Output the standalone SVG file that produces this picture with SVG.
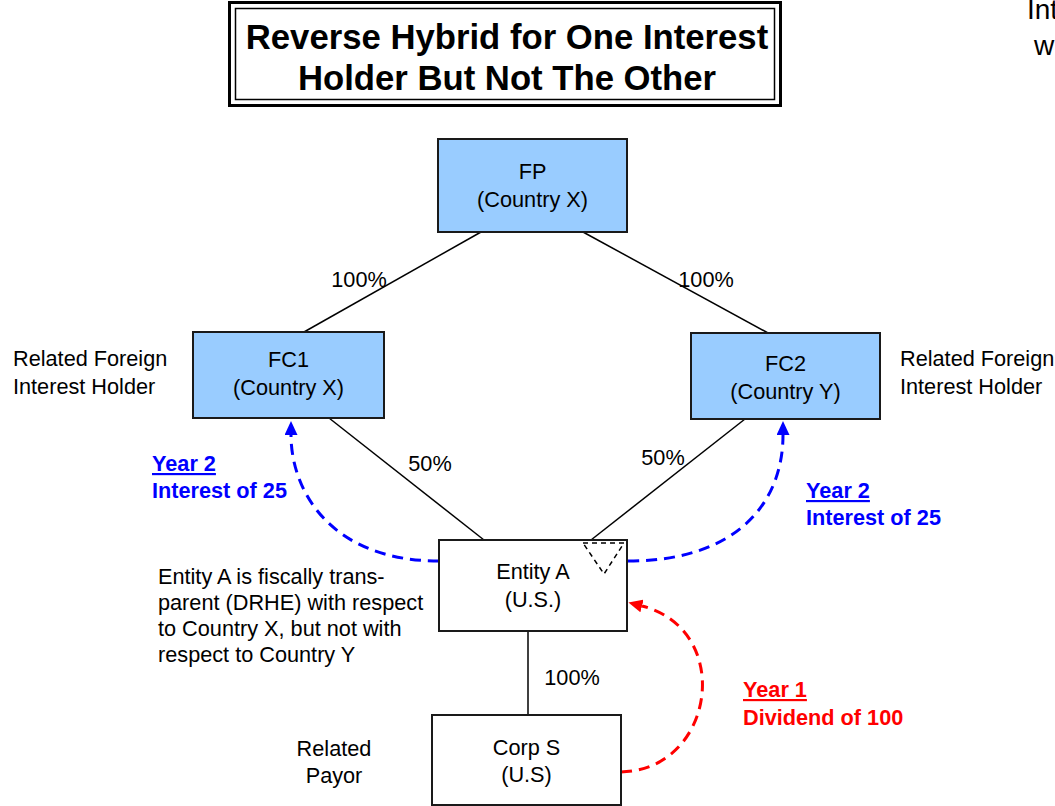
<svg xmlns="http://www.w3.org/2000/svg" width="1055" height="806" viewBox="0 0 1055 806">
<style>
text{font-family:"Liberation Sans",Arial,sans-serif;font-size:21.7px;fill:#000}
.c{text-anchor:middle}
.t{font-size:34.7px;font-weight:bold}
.big{font-size:28px}
.b{font-weight:bold;fill:#0000FF}
.r{font-weight:bold;fill:#FF0000}
.u{text-decoration:underline}
.node{stroke:#1a1a1a;stroke-width:2}
.blue{fill:#99CCFF}
.white{fill:#FFFFFF}
.ln{stroke:#000;stroke-width:1.5;fill:none}
.bd{stroke:#0000FF;stroke-width:3;fill:none;stroke-dasharray:11,7}
.rd{stroke:#FF0000;stroke-width:3;fill:none;stroke-dasharray:11,7}
</style>
<defs>
<marker id="ab" markerUnits="userSpaceOnUse" markerWidth="14" markerHeight="13" viewBox="0 0 14 13" refX="0" refY="6.5" orient="auto"><path d="M0,0 L14,6.5 L0,13 z" fill="#0000FF"/></marker>
<marker id="ar" markerUnits="userSpaceOnUse" markerWidth="14" markerHeight="13" viewBox="0 0 14 13" refX="0" refY="6.5" orient="auto"><path d="M0,0 L14,6.5 L0,13 z" fill="#FF0000"/></marker>
</defs>
<rect width="1055" height="806" fill="#FFFFFF"/>
<g id="title">
<rect x="229.5" y="2.5" width="551" height="103" fill="#FFFFFF" stroke="#000" stroke-width="3"/>
<rect x="235.5" y="8.5" width="539" height="91" fill="none" stroke="#000" stroke-width="1.5"/>
<text class="t c" x="507" y="49">Reverse Hybrid for One Interest</text>
<text class="t c" x="507" y="90">Holder But Not The Other</text>
</g>
<g id="clipped-text">
<text class="big" x="1027" y="19">Int</text>
<text class="big" x="1034" y="55">w</text>
</g>
<g id="connectors">
<line class="ln" x1="481" y1="232" x2="304" y2="332"/>
<line class="ln" x1="583" y1="232" x2="768" y2="333"/>
<line class="ln" x1="329" y1="418" x2="484" y2="540"/>
<line class="ln" x1="745" y1="419" x2="591" y2="540"/>
<line class="ln" x1="528" y1="631" x2="528" y2="715"/>
<path class="bd" d="M439,561 C330,561 291,490 291,435" marker-end="url(#ab)"/>
<path class="bd" d="M628,561 C740,561 783,500 783,435" marker-end="url(#ab)"/>
<path class="rd" d="M621,772 C715,770 735,630 642,606" marker-end="url(#ar)"/>
</g>
<g id="FP">
<rect class="node blue" x="438" y="139" width="189" height="93"/>
<text class="c" x="532.5" y="179">FP</text>
<text class="c" x="532.5" y="207">(Country X)</text>
</g>
<g id="FC1">
<rect class="node blue" x="193" y="332" width="191" height="86"/>
<text class="c" x="288.5" y="367">FC1</text>
<text class="c" x="288.5" y="395">(Country X)</text>
</g>
<g id="FC2">
<rect class="node blue" x="691" y="333" width="189" height="86"/>
<text class="c" x="785.5" y="371">FC2</text>
<text class="c" x="785.5" y="399">(Country Y)</text>
</g>
<g id="EntityA">
<rect class="node white" x="439" y="540" width="188" height="91"/>
<polygon points="583,543 624,543 604,574" fill="none" stroke="#000" stroke-width="1.5" stroke-dasharray="5,4"/>
<text class="c" x="533" y="579">Entity A</text>
<text class="c" x="533" y="607">(U.S.)</text>
</g>
<g id="CorpS">
<rect class="node white" x="432" y="715" width="189" height="90"/>
<text class="c" x="526.5" y="755">Corp S</text>
<text class="c" x="526.5" y="782">(U.S)</text>
</g>
<g id="labels">
<text x="359" y="287" class="c">100%</text>
<text x="706" y="287" class="c">100%</text>
<text x="430" y="471" class="c">50%</text>
<text x="663" y="465" class="c">50%</text>
<text x="572" y="685" class="c">100%</text>
<text x="13" y="366">Related Foreign</text>
<text x="13" y="394">Interest Holder</text>
<text x="900" y="366">Related Foreign</text>
<text x="900" y="394">Interest Holder</text>
<text x="334" y="756" class="c">Related</text>
<text x="334" y="783" class="c">Payor</text>
<text x="158" y="584">Entity A is fiscally trans-</text>
<text x="158" y="610">parent (DRHE) with respect</text>
<text x="158" y="636">to Country X, but not with</text>
<text x="158" y="662">respect to Country Y</text>
<text x="152" y="471" class="b u">Year 2</text>
<text x="152" y="498" class="b">Interest of 25</text>
<text x="806" y="498" class="b u">Year 2</text>
<text x="806" y="525" class="b">Interest of 25</text>
<text x="743" y="697" class="r u">Year 1</text>
<text x="743" y="725" class="r">Dividend of 100</text>
</g>
</svg>
